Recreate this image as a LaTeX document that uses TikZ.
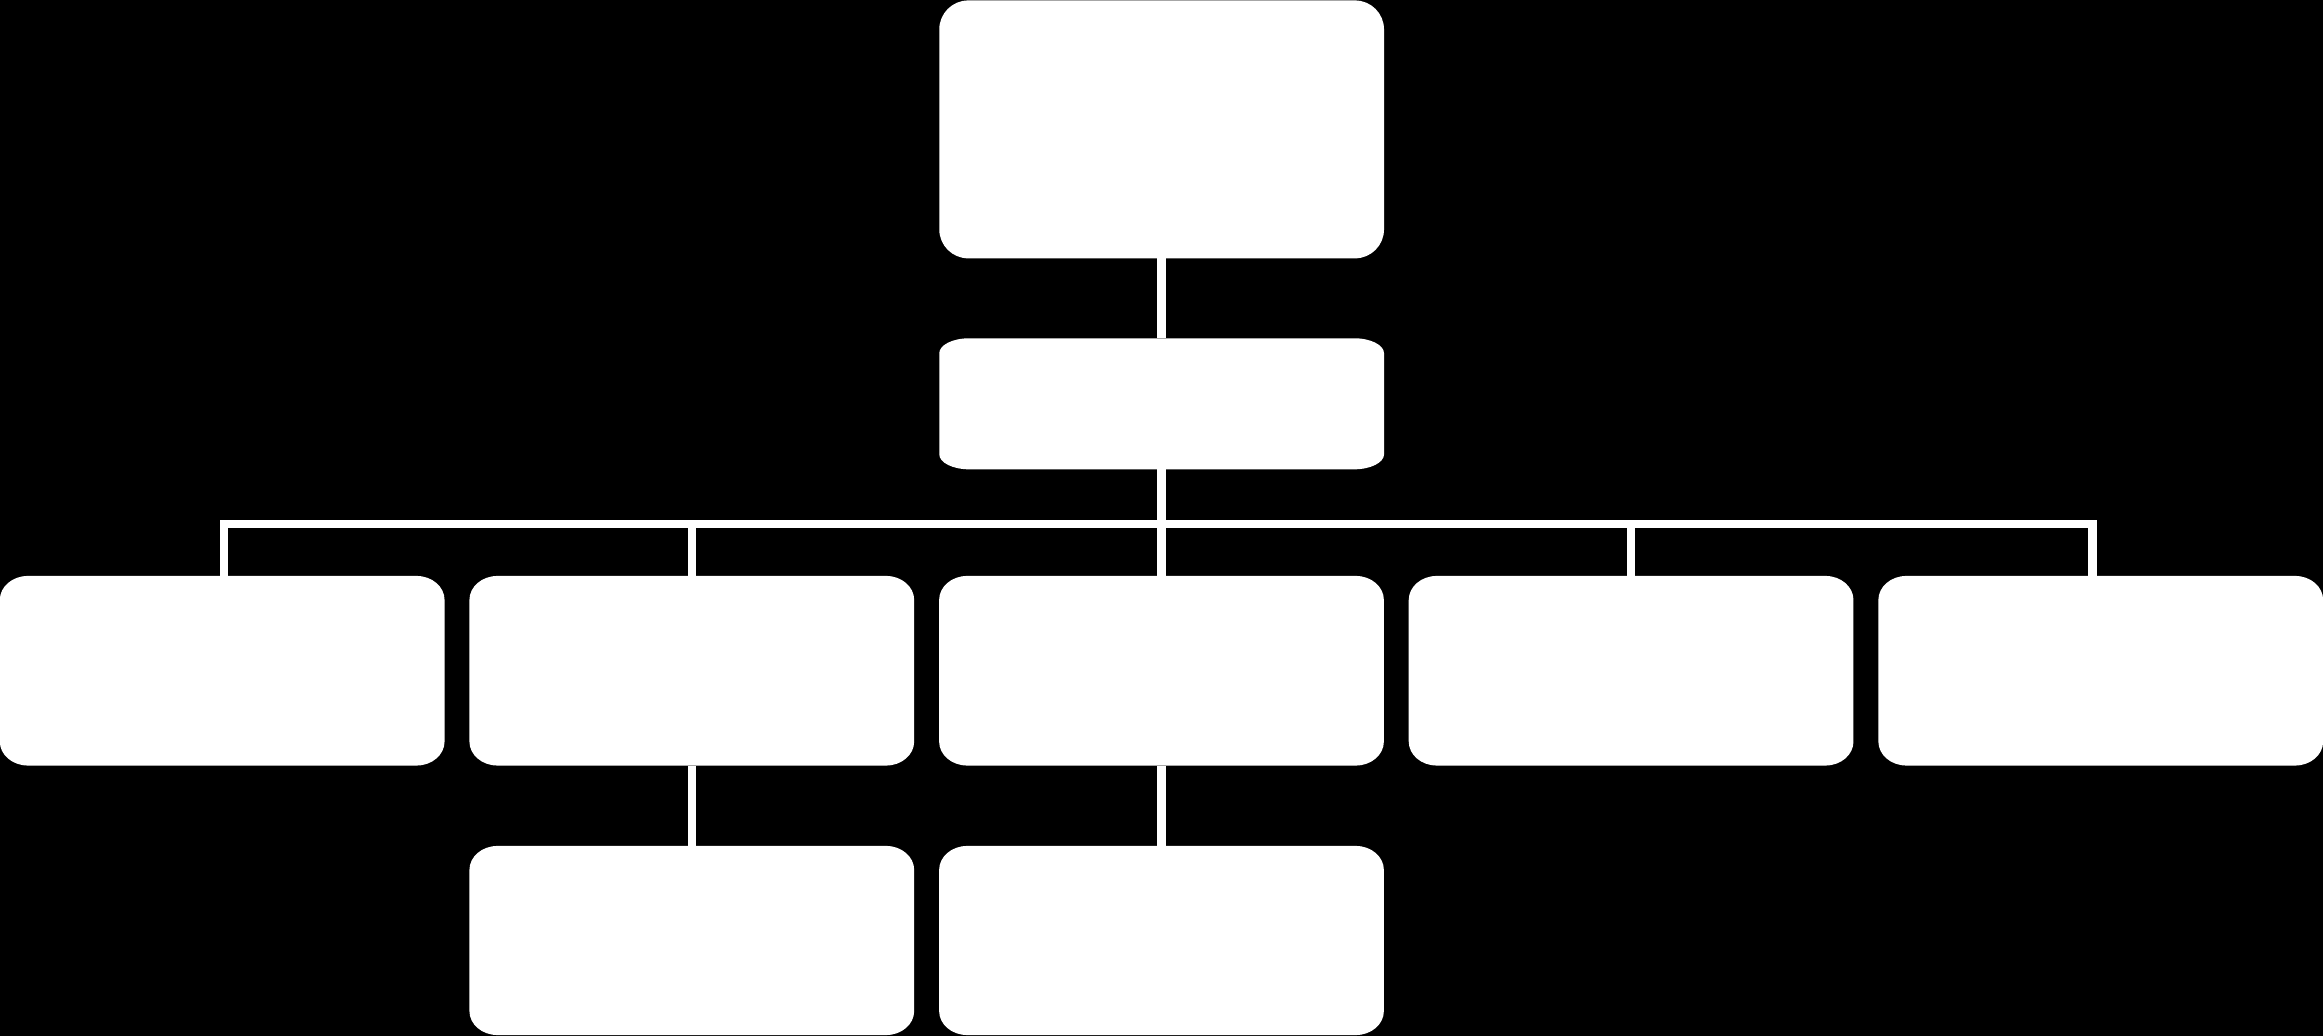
\documentclass[tikz,border=0pt]{standalone}
\usetikzlibrary{calc}
\newcommand{\myebox}[3]{%
  \fill[white] ([xshift=#2]#1.north west) -- ([xshift=-#2]#1.north east)
    arc[start angle=90, end angle=0, x radius=#2, y radius=#3]
    -- ([yshift=#3]#1.south east)
    arc[start angle=0, end angle=-90, x radius=#2, y radius=#3]
    -- ([xshift=#2]#1.south west)
    arc[start angle=270, end angle=180, x radius=#2, y radius=#3]
    -- ([yshift=-#3]#1.north west)
    arc[start angle=180, end angle=90, x radius=#2, y radius=#3] -- cycle;}
\begin{document}
\begin{tikzpicture}[x=0.01cm,y=0.01cm,
  box/.style={rectangle, inner sep=0pt, outer sep=0pt, minimum width=4.445cm},
  conn/.style={draw=white, line width=2.42pt}]
\fill[black] (0,0) rectangle (2323,1036);
\useasboundingbox (0,0) rectangle (2323,1036);
% nodes
\node[box, minimum height=2.578cm, fill=white, rounded corners=0.29cm] (top) at (1161.65,906.6) {};
\node[box, minimum height=1.31cm] (mid) at (1161.65,632.2) {};
\node[box, minimum height=1.895cm] (b1) at (222.2,365.25) {};
\node[box, minimum height=1.895cm] (b2) at (691.8,365.25) {};
\node[box, minimum height=1.895cm] (b3) at (1161.5,365.25) {};
\node[box, minimum height=1.895cm] (b4) at (1631.1,365.25) {};
\node[box, minimum height=1.895cm] (b5) at (2100.75,365.25) {};
\node[box, minimum height=1.89cm] (c1) at (691.8,95.5) {};
\node[box, minimum height=1.89cm] (c2) at (1161.5,95.5) {};
% connectors
\coordinate (busL) at (223.8,511.8);
\coordinate (busR) at (2092.5,511.8);
\draw[conn] (top.south) -- (mid.north);
\draw[conn] (mid.south) -- (mid.south |- busL);
\draw[conn, line join=miter] (busL |- b1.north) -- (busL) -- (busR) -- (busR |- b5.north);
\draw[conn] (b2.north |- busL) -- (b2.north);
\draw[conn] (b3.north |- busL) -- (b3.north);
\draw[conn] (b4.north |- busL) -- (b4.north);
\draw[conn] (b2.south) -- (c1.north);
\draw[conn] (b3.south) -- (c2.north);
% box shapes
\myebox{mid}{0.30cm}{0.15cm}
\myebox{b1}{0.28cm}{0.24cm}
\myebox{b2}{0.28cm}{0.24cm}
\myebox{b3}{0.28cm}{0.24cm}
\myebox{b4}{0.28cm}{0.24cm}
\myebox{b5}{0.28cm}{0.24cm}
\myebox{c1}{0.28cm}{0.24cm}
\myebox{c2}{0.28cm}{0.24cm}
\end{tikzpicture}
\end{document}
